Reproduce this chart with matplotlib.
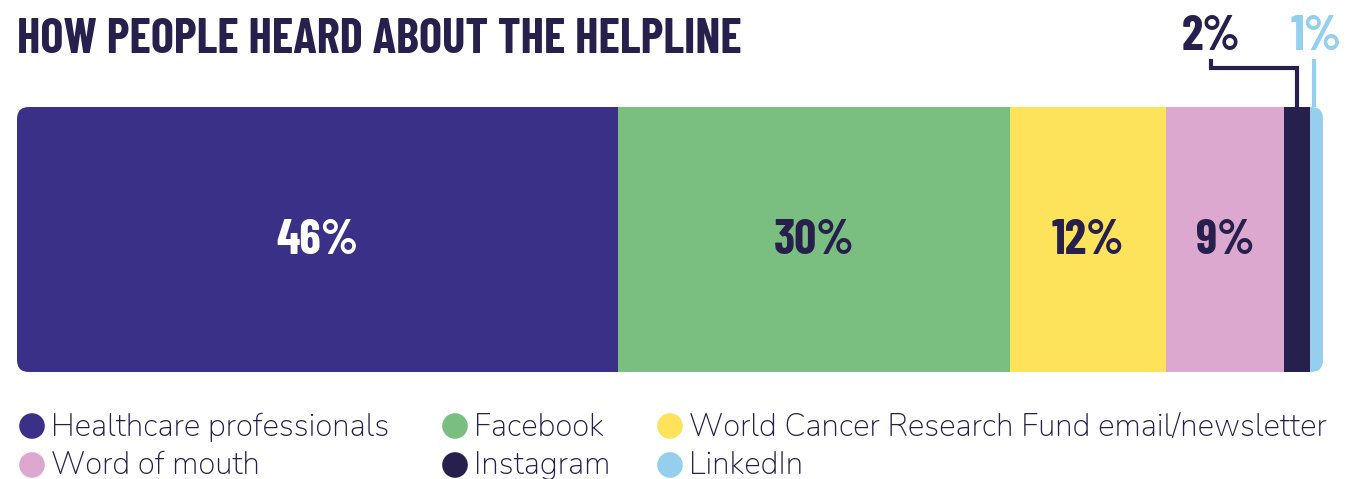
import matplotlib
matplotlib.use("Agg")
import matplotlib.pyplot as plt
from matplotlib.patches import FancyBboxPatch
import numpy as np

# ---- data ----
categories = ["Healthcare professionals", "Facebook",
              "World Cancer Research Fund email/newsletter",
              "Word of mouth", "Instagram", "LinkedIn"]
values = [46, 30, 12, 9, 2, 1]
colors = ["#3A3087", "#7BBF80", "#FDE25C", "#DDA8CF", "#27204D", "#94CFEE"]
label_colors = ["white", "#27204D", "#27204D", "#27204D", "#27204D", "#94CFEE"]
title = "HOW PEOPLE HEARD ABOUT THE HELPLINE"
legend_order = [[0, 1, 2], [3, 4, 5]]

DARK = "#27204D"
W, H = 1370, 479
fig = plt.figure(figsize=(W / 100, H / 100), dpi=100)
fig.patch.set_facecolor("white")

cond = ["Barlow Condensed", "DejaVu Sans"]
body = ["Nunito", "Lato", "DejaVu Sans"]

# bar axes positioned in pixels
x0, x1, ytop, ybot = 17, 1323, 107, 372
ax = fig.add_axes([x0 / W, 1 - ybot / H, (x1 - x0) / W, (ybot - ytop) / H])
total = sum(values)
ax.set_xlim(0, total)
ax.set_ylim(-0.5, 0.5)
ax.axis("off")

lefts = np.concatenate([[0], np.cumsum(values)[:-1]])
bars = ax.barh([0] * len(values), values, left=lefts, height=1.0,
               color=colors, edgecolor="none")

# rounded clip
px_per_x = (x1 - x0) / total
px_per_y = (ybot - ytop) / 1.0
r_px = 12
clip = FancyBboxPatch((0, -0.5), total, 1.0,
                      boxstyle=f"round,pad=0,rounding_size={r_px / px_per_x}",
                      mutation_aspect=px_per_x / px_per_y,
                      transform=ax.transData, facecolor="none", edgecolor="none")
ax.add_patch(clip)
for b in bars:
    b.set_clip_path(clip)

centers = lefts + np.array(values) / 2
for i, (c, v) in enumerate(zip(centers, values)):
    if v >= 5:
        ax.text(c, -0.005, f"{v}%", ha="center", va="center",
                fontsize=35, fontweight="bold", family=cond, color=label_colors[i])

# small value callouts
def py(px):  # pixel position (from top) -> data y
    return 0.5 + (ytop - px) / px_per_y

# Instagram (2%)
ci = centers[4]
lx = ci - 86 / px_per_x
ax.plot([lx, lx, ci, ci], [py(59), py(68), py(68), 0.5], color=DARK, lw=3,
        clip_on=False, solid_joinstyle="miter", solid_capstyle="butt")
ax.text(lx, py(37), f"{values[4]}%", ha="center", va="center", fontsize=35,
        fontweight="bold", family=cond, color=DARK, clip_on=False)
# LinkedIn (1%)
cl = centers[5]
ax.plot([cl - 2 / px_per_x] * 2, [py(59), 0.5], color=colors[5], lw=3,
        clip_on=False, solid_capstyle="butt")
ax.text(cl, py(37), f"{values[5]}%", ha="center", va="center", fontsize=35,
        fontweight="bold", family=cond, color=colors[5], clip_on=False)

# title
fig.text(17 / W, 1 - 53 / H, title, ha="left", va="baseline", fontsize=35.1,
         fontweight="bold", family=cond, color=DARK)

# legend (manual)
lax = fig.add_axes([0, 0, 1, 1])
lax.set_xlim(0, W)
lax.set_ylim(H, 0)
lax.axis("off")
col_x = [32, 455, 670]
row_y = [426, 465]
for r, row in enumerate(legend_order):
    for c, idx in enumerate(row):
        lax.scatter([col_x[c]], [row_y[r]], s=340, color=colors[idx], edgecolor="none")
        lax.text(col_x[c] + 19, row_y[r] + 1, categories[idx], ha="left", va="center",
                 fontsize=22.6, family=body, color=DARK)

fig.savefig("out.png", dpi=100, facecolor="white")
